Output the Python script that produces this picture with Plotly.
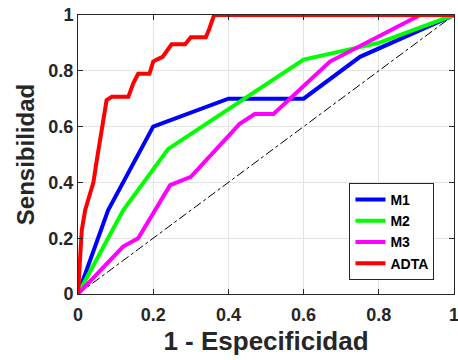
import plotly.graph_objects as go

# Data
m1_x = [0, 0.08, 0.20, 0.40, 0.60, 0.75, 1.0]
m1_y = [0, 0.30, 0.60, 0.70, 0.70, 0.85, 1.0]

m2_x = [0, 0.12, 0.24, 0.60, 0.80, 1.0]
m2_y = [0, 0.30, 0.52, 0.84, 0.90, 1.0]

m3_x = [0, 0.12, 0.16, 0.245, 0.30, 0.43, 0.47, 0.52, 0.67, 0.91, 1.0]
m3_y = [0, 0.17, 0.20, 0.39, 0.42, 0.61, 0.645, 0.645, 0.833, 1.0, 1.0]

adta_x = [0, 0.001, 0.010, 0.019, 0.041, 0.050, 0.058, 0.063, 0.076, 0.090, 0.134, 0.147,
          0.160, 0.190, 0.200, 0.211, 0.225, 0.249, 0.285, 0.300, 0.340, 0.349, 0.362, 1.0]
adta_y = [0, 0.026, 0.229, 0.300, 0.400, 0.480, 0.550, 0.590, 0.695, 0.707, 0.707, 0.755,
          0.789, 0.789, 0.833, 0.841, 0.850, 0.895, 0.895, 0.920, 0.920, 0.950, 1.0, 1.0]

diag_x = [0, 1]
diag_y = [0, 1]

tick_vals = [0, 0.2, 0.4, 0.6, 0.8, 1]
tick_text = ["<b>0</b>", "<b>0.2</b>", "<b>0.4</b>", "<b>0.6</b>", "<b>0.8</b>", "<b>1</b>"]

FONT = "Liberation Sans, Arial, Helvetica"

fig = go.Figure()
fig.add_trace(go.Scatter(x=diag_x, y=diag_y, mode="lines", showlegend=False,
                         line=dict(color="black", width=1, dash="dashdot")))
series = [("M1", m1_x, m1_y, "#0000ff"), ("M2", m2_x, m2_y, "#00ff00"),
          ("M3", m3_x, m3_y, "#ff00ff"), ("ADTA", adta_x, adta_y, "#ff0000")]
for name, xs, ys, col in series:
    fig.add_trace(go.Scatter(x=xs, y=ys, mode="lines", name=f"<b>{name}</b>",
                             line=dict(color=col, width=4)))

axis_common = dict(
    range=[0, 1], tickvals=tick_vals, ticktext=tick_text,
    showgrid=True, gridcolor="#e3e3e3", gridwidth=1,
    showline=True, linecolor="#262626", linewidth=1, mirror="ticks",
    ticks="inside", ticklen=5, tickcolor="#262626", zeroline=False,
    automargin=False, ticklabeloverflow="allow",
    tickfont=dict(family=FONT, size=18, color="#262626"),
)

fig.update_layout(
    width=458, height=360,
    margin=dict(l=78, r=4, t=15, b=66),
    plot_bgcolor="white", paper_bgcolor="white",
    font=dict(family=FONT, color="#262626"),
    xaxis=dict(**axis_common, ticklabelstandoff=4,
               title=dict(text="<b>1 - Especificidad</b>", font=dict(size=26, color="#262626"),
                          standoff=8)),
    yaxis=dict(**axis_common,
               title=dict(text="<b>Sensibilidad</b>", font=dict(size=24, color="#262626"),
                          standoff=6)),
    legend=dict(x=0.835, y=0.398, xanchor="center", yanchor="top",
                bgcolor="white", bordercolor="#262626", borderwidth=1,
                font=dict(size=14, color="black", family=FONT),
                tracegroupgap=0),
)

fig.write_html("out.html", config={"displayModeBar": False},
               post_script="document.body.style.margin='0px';")
